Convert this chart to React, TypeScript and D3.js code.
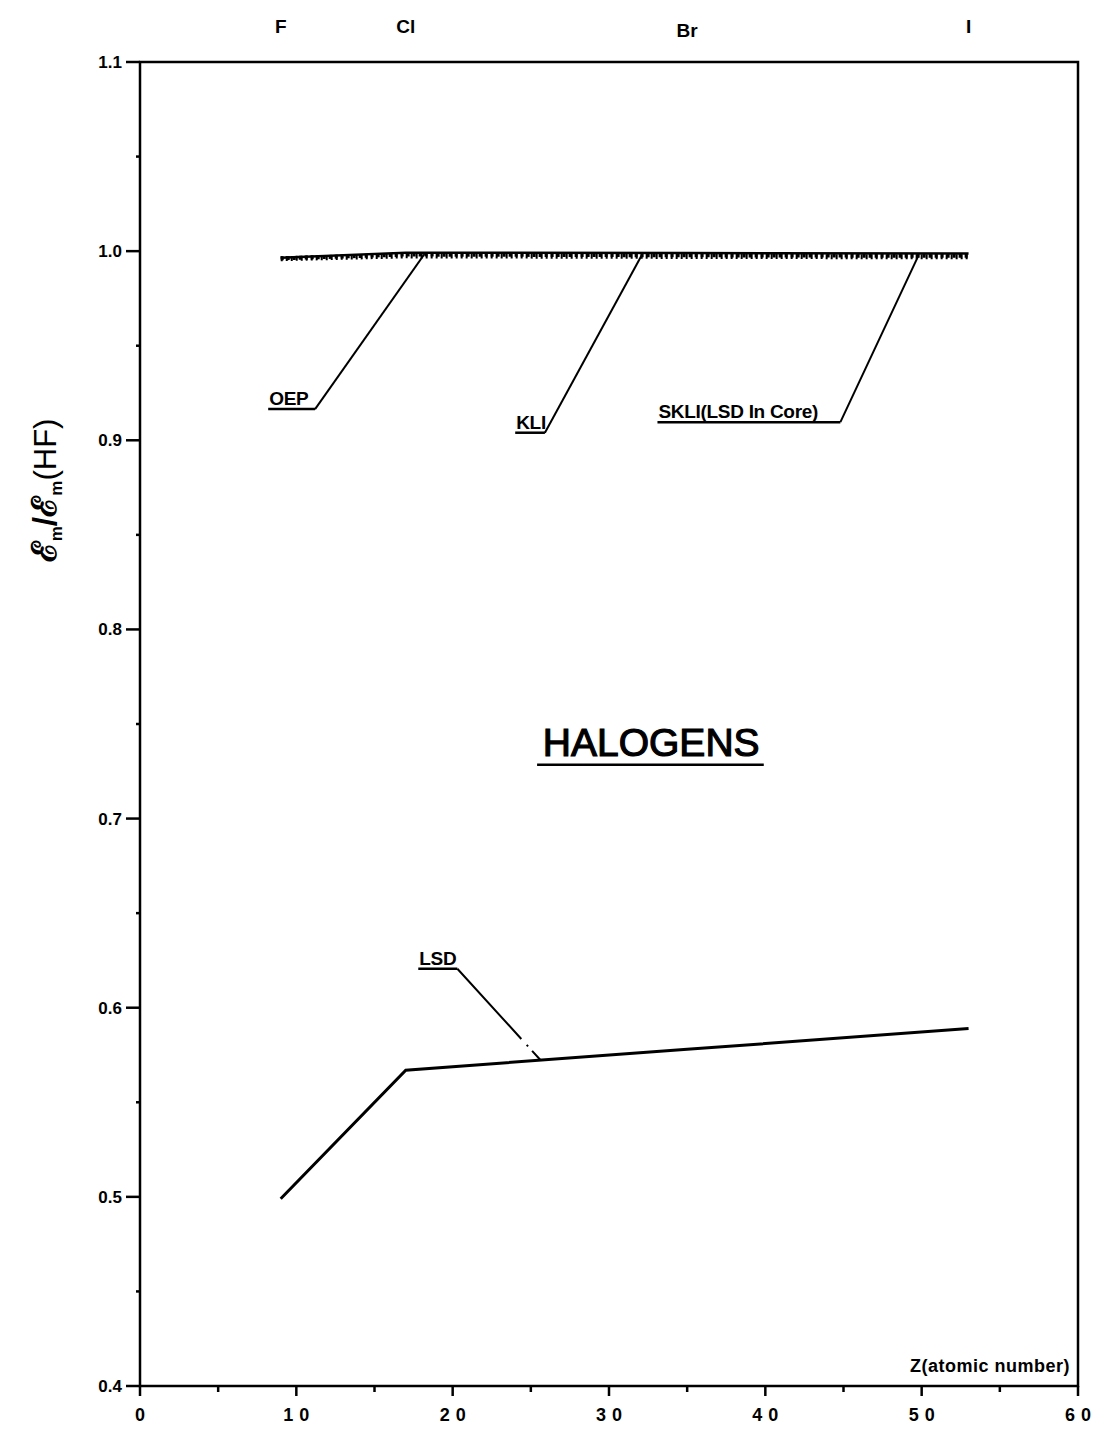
import React from "react";
import * as d3 from "d3";

const elements = ["F", "Cl", "Br", "I"];
const atomicZ = [9, 17, 35, 53];
const oep = [0.9965, 0.9992, 0.9990, 0.9988];
const kli = [0.9962, 0.9982, 0.9978, 0.9975];
const skli = [0.9960, 0.9975, 0.9972, 0.9970];
const lsd = [0.499, 0.567, 0.578, 0.589];

const xTicks = [0, 10, 20, 30, 40, 50, 60];
const xMinor = [5, 15, 25, 35, 45, 55];
const yTicks = [0.4, 0.5, 0.6, 0.7, 0.8, 0.9, 1.0, 1.1];
const yMinor = [0.45, 0.55, 0.65, 0.75, 0.85, 0.95, 1.05];

// annotations: label, underline start Z, underline end Z, underline value, pointer target Z, target value
const annLabels = ["OEP", "KLI", "SKLI(LSD In Core)", "LSD"];
const annZ0 = [8.2, 24.0, 33.1, 17.8];
const annZ1 = [11.2, 25.9, 44.8, 20.3];
const annV = [0.9165, 0.904, 0.9096, 0.6206];
const annTZ = [18.2, 32.1, 49.8, 25.6];
const annTV = [0.9985, 0.998, 0.9978, 0.5725];

const W = 1099;
const H = 1429;
const M = { left: 140, right: 1078, top: 62, bottom: 1386 };

export default function App() {
  const x = d3.scaleLinear().domain([0, 60]).range([M.left, M.right]);
  const y = d3.scaleLinear().domain([0.4, 1.1]).range([M.bottom, M.top]);
  const line = d3
    .line<number>()
    .x((_, i) => x(atomicZ[i]))
    .y((d) => y(d));

  const font = "'Liberation Sans', Arial, sans-serif";

  return (
    <svg width={W} height={H} style={{ position: "absolute", left: 0, top: 0, background: "#fff" }} fontFamily={font}>
      <rect width={W} height={H} fill="#fff" />
      {/* frame */}
      <rect x={M.left} y={M.top} width={M.right - M.left} height={M.bottom - M.top} fill="none" stroke="#000" strokeWidth={2.5} />

      {/* top element labels */}
      {elements.map((e, i) => (
        <text key={e} x={x(atomicZ[i])} y={i === 2 ? 37 : 33} textAnchor="middle" fontSize={19} fontWeight="bold">
          {e}
        </text>
      ))}

      {/* y ticks */}
      {yTicks.map((t) => (
        <g key={t}>
          <line x1={M.left - 14} x2={M.left} y1={y(t)} y2={y(t)} stroke="#000" strokeWidth={2.5} />
          <text x={M.left - 18} y={y(t) + 6} textAnchor="end" fontSize={17} fontWeight="bold">
            {t.toFixed(1)}
          </text>
        </g>
      ))}
      {yMinor.map((t) => (
        <line key={t} x1={M.left - 4} x2={M.left} y1={y(t)} y2={y(t)} stroke="#000" strokeWidth={2.5} />
      ))}

      {/* x ticks */}
      {xTicks.map((t) => (
        <g key={t}>
          <line x1={x(t)} x2={x(t)} y1={M.bottom} y2={M.bottom + 10} stroke="#000" strokeWidth={2.5} />
          <text x={x(t) + (t === 0 ? 0 : 3)} y={M.bottom + 35} textAnchor="middle" fontSize={18} fontWeight="bold" letterSpacing={t === 0 ? 0 : 6}>
            {t}
          </text>
        </g>
      ))}
      {xMinor.map((t) => (
        <line key={t} x1={x(t)} x2={x(t)} y1={M.bottom} y2={M.bottom + 6} stroke="#000" strokeWidth={2.5} />
      ))}

      {/* axis titles */}
      <text x={M.right - 8} y={M.bottom - 14} textAnchor="end" fontSize={18} fontWeight="bold" letterSpacing={0.5}>
        Z(atomic number)
      </text>
      <text transform={`translate(56, ${y(0.8735)}) rotate(-90)`} textAnchor="middle" fontSize={34} fontWeight="bold">
        <tspan>ℰ</tspan>
        <tspan fontSize={17} dy={6}>m</tspan>
        <tspan dy={-6}>/ℰ</tspan>
        <tspan fontSize={17} dy={6}>m</tspan>
        <tspan dy={-6} fontWeight="normal" fontSize={31}>(HF)</tspan>
      </text>

      {/* HALOGENS */}
      <text x={x(32.7)} y={y(0.733)} textAnchor="middle" fontSize={39} fontWeight="normal" stroke="#000" strokeWidth={1.2}>
        HALOGENS
      </text>
      <line x1={x(25.4)} x2={x(39.9)} y1={y(0.7285)} y2={y(0.7285)} stroke="#000" strokeWidth={2.5} />

      {/* top curves */}
      <path d={line(skli) || ""} fill="none" stroke="#000" strokeWidth={5} strokeDasharray="2 3" />
      <path d={line(kli) || ""} fill="none" stroke="#000" strokeWidth={4} strokeDasharray="3 3" />
      <path d={line(oep) || ""} fill="none" stroke="#000" strokeWidth={2.5} />

      {/* LSD curve */}
      <path d={line(lsd) || ""} fill="none" stroke="#000" strokeWidth={3} />

      {/* annotations */}
      {annLabels.map((lab, i) => (
        <g key={lab}>
          <text x={x(annZ0[i]) + 1} y={y(annV[i]) - 4} fontSize={19} fontWeight="bold" letterSpacing={-0.3}>
            {lab}
          </text>
          <line x1={x(annZ0[i])} x2={x(annZ1[i])} y1={y(annV[i])} y2={y(annV[i])} stroke="#000" strokeWidth={2.5} />
          <line
            x1={x(annZ1[i])}
            y1={y(annV[i])}
            x2={x(annTZ[i])}
            y2={y(annTV[i])}
            stroke="#000"
            strokeWidth={2}
            strokeDasharray={i === 3 ? "95 8 2 6 30" : undefined}
          />
        </g>
      ))}
    </svg>
  );
}
